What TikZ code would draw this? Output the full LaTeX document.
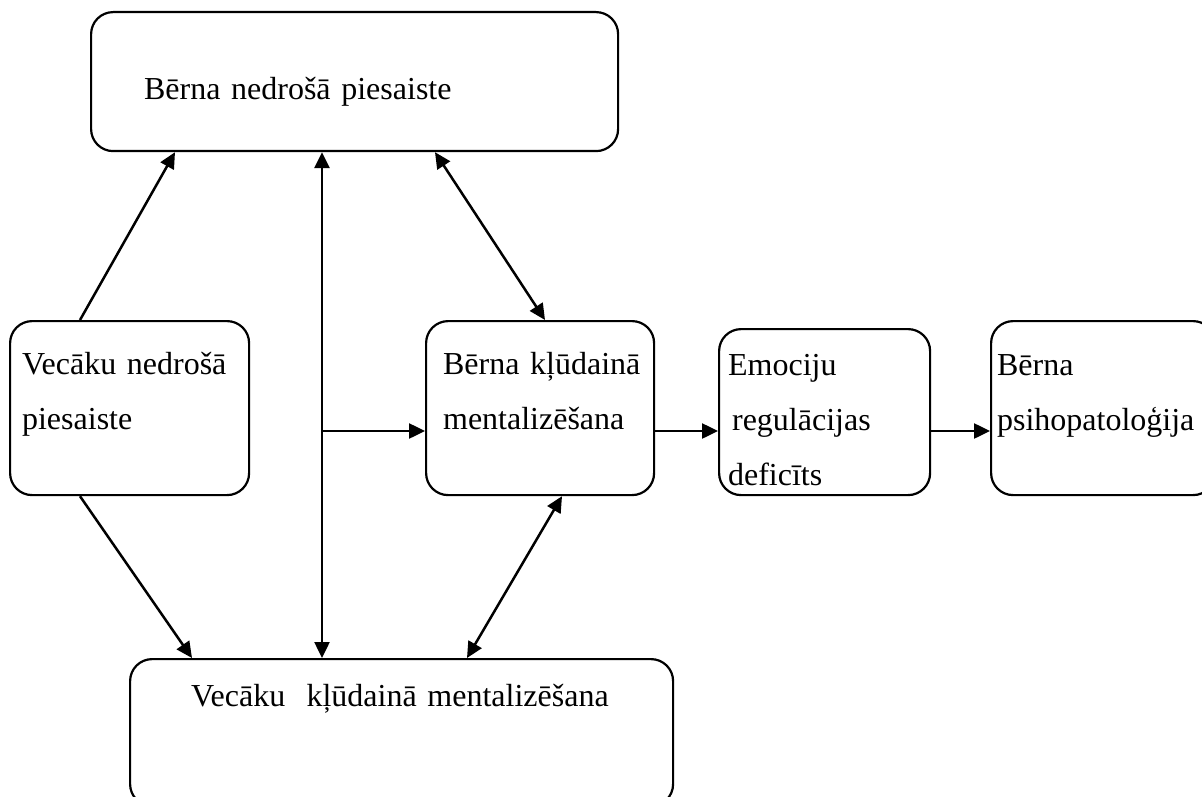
\documentclass[tikz,border=0pt]{standalone}
\usepackage{fontspec}
\setmainfont{Liberation Serif}
\usetikzlibrary{arrows.meta}

\begin{document}
\begin{tikzpicture}[
        x=1pt, y=-1pt,
        stage/.style={
            draw,
            line width=2.2pt,
            rounded corners=22pt,
            anchor=north west,
            align=left,
            inner ysep=0pt,
            font=\fontsize{32pt}{55pt}\selectfont
        },
        link/.style={
            line width=2.5pt,
            -{Triangle[length=16pt,width=15pt]}
        },
        mutual/.style={
            line width=2.5pt,
            {Triangle[length=16pt,width=15pt]}-{Triangle[length=16pt,width=15pt]}
        }
    ]

    \useasboundingbox (0,0) rectangle (1202,797);

    \node[stage, inner xsep=53pt, text width=421pt, text height=87pt, text depth=52pt]
        (childinsec) at (90,11) {\mbox{Bērna nedrošā piesaiste}};
    \node[stage, inner xsep=12pt, text width=215pt, text height=53pt, text depth=121pt]
        (parinsec) at (9,320) {\mbox{Vecāku nedrošā}\\piesaiste};
    \node[stage, inner xsep=17pt, text width=194pt, text height=53pt, text depth=121pt]
        (childmis) at (425,320) {\mbox{Bērna kļūdainā}\\\mbox{mentalizēšana}};
    \node[stage, inner xsep=9pt, text width=193pt, text height=46pt, text depth=120pt]
        (emodef) at (718,328) {Emociju\\\hspace*{4pt}regulācijas\\deficīts};
    \node[stage, inner xsep=6pt, text width=212pt, text height=54pt, text depth=120pt]
        (psycho) at (990,320) {Bērna\\\mbox{psihopatoloģija}};
    \node[stage, inner xsep=61pt, text width=421pt, text height=47pt, text depth=100pt]
        (parmis) at (129,658) {\mbox{Vecāku~~kļūdainā mentalizēšana}};

    \coordinate (junc) at (322,431);

    \draw[link] ([xshift=71pt]parinsec.north west) -- ([xshift=85pt]childinsec.south west);
    \draw[link] ([xshift=71pt]parinsec.south west) -- ([xshift=63pt]parmis.north west);

    \draw[mutual] (childinsec.south -| junc) -- (parmis.north -| junc);
    \draw[link] (junc) -- (childmis.west |- junc);

    \draw[mutual] ([xshift=345pt]childinsec.south west) -- ([xshift=120pt]childmis.north west);
    \draw[mutual] ([xshift=137pt]childmis.south west) -- ([xshift=338pt]parmis.north west);

    \draw[link] (childmis.east |- junc) -- (emodef.west |- junc);
    \draw[link] (emodef.east |- junc) -- (psycho.west |- junc);

\end{tikzpicture}
\end{document}
